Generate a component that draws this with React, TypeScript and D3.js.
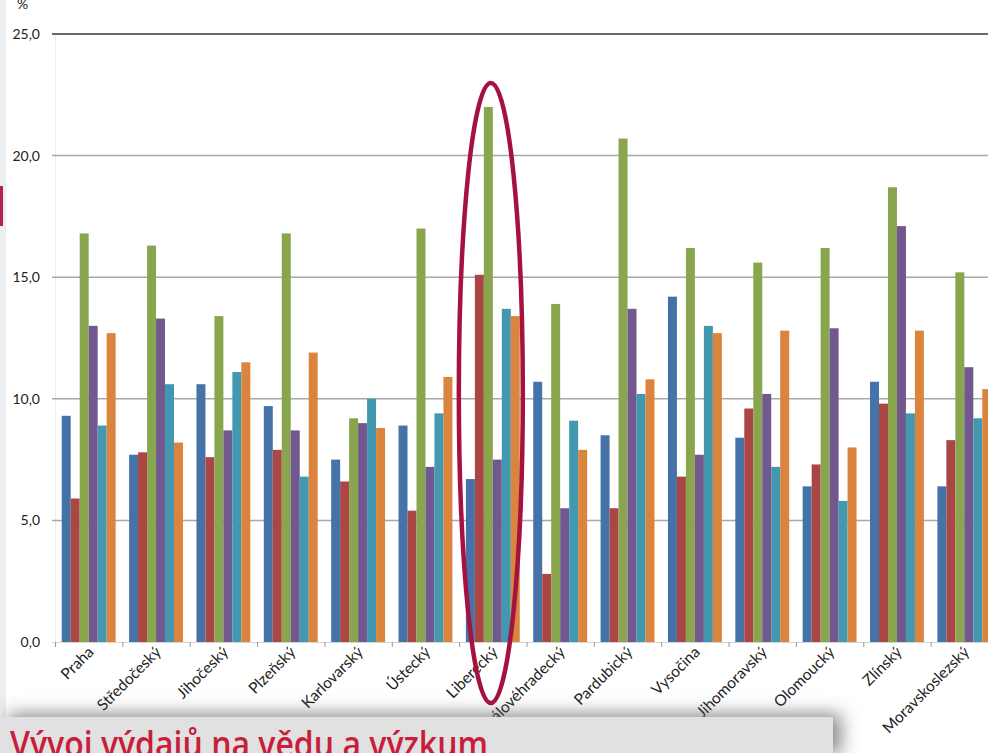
import React from "react";
import * as d3 from "d3";

const categories = [
  "Praha", "Středočeský", "Jihočeský", "Plzeňský", "Karlovarský", "Ústecký", "Liberecký",
  "Královéhradecký", "Pardubický", "Vysočina", "Jihomoravský", "Olomoucký", "Zlínský", "Moravskoslezský",
];
const seriesNames = ["s1", "s2", "s3", "s4", "s5", "s6"];
const s1 = [9.3, 7.7, 10.6, 9.7, 7.5, 8.9, 6.7, 10.7, 8.5, 14.2, 8.4, 6.4, 10.7, 6.4];
const s2 = [5.9, 7.8, 7.6, 7.9, 6.6, 5.4, 15.1, 2.8, 5.5, 6.8, 9.6, 7.3, 9.8, 8.3];
const s3 = [16.8, 16.3, 13.4, 16.8, 9.2, 17.0, 22.0, 13.9, 20.7, 16.2, 15.6, 16.2, 18.7, 15.2];
const s4 = [13.0, 13.3, 8.7, 8.7, 9.0, 7.2, 7.5, 5.5, 13.7, 7.7, 10.2, 12.9, 17.1, 11.3];
const s5 = [8.9, 10.6, 11.1, 6.8, 10.0, 9.4, 13.7, 9.1, 10.2, 13.0, 7.2, 5.8, 9.4, 9.2];
const s6 = [12.7, 8.2, 11.5, 11.9, 8.8, 10.9, 13.4, 7.9, 10.8, 12.7, 12.8, 8.0, 12.8, 10.4];
const seriesValues = [s1, s2, s3, s4, s5, s6];
const colors = ["#4572A7", "#AA4643", "#89A54E", "#71588F", "#4198AF", "#DB843D"];
const yTicks = [0, 5, 10, 15, 20, 25];
const unitLabel = "%";
const bannerText = "Vývoj výdajů na vědu a výzkum";
const highlighted = "Liberecký";

export default function App() {
  const W = 988, H = 753;
  const x = d3.scaleBand<string>().domain(categories).range([55, 998]).padding(0);
  const bw = x.bandwidth();
  const xi = d3.scaleBand<string>().domain(seriesNames).range([bw * 0.1, bw * 0.9]).padding(0);
  const y = d3.scaleLinear().domain([0, 25]).range([642, 34]);
  const fmt = (v: number) => v.toFixed(1).replace(".", ",");
  const hx = (x(highlighted) as number) + bw / 2 - 2;

  return (
    <svg width={W} height={H} style={{ position: "absolute", left: 0, top: 0, background: "#fff" }}
      fontFamily="Lato, 'Open Sans', sans-serif">
      <defs>
        <filter id="sh" x="-10%" y="-100%" width="130%" height="300%">
          <feDropShadow dx="8" dy="-3" stdDeviation="9" floodColor="#555" floodOpacity="0.7" />
        </filter>
      </defs>
      <rect x={0} y={0} width={W} height={H} fill="#fff" />
      <rect x={0} y={0} width={6} height={H} fill="#eceff2" />
      <rect x={0} y={186} width={3} height={40} fill="#b3244c" />
      <line x1={55.5} x2={55.5} y1={y(25)} y2={y(0)} stroke="#ececec" strokeWidth={1} />
      {yTicks.map((t) => (
        <g key={t}>
          {t > 0 && (
            <line x1={52} x2={W} y1={y(t)} y2={y(t)}
              stroke={t === 25 ? "#6a6a6a" : "#a8a8a8"} strokeWidth={t === 25 ? 2 : 1.5} />
          )}
          <text x={40} y={y(t) + 5} textAnchor="end" fontSize={14} fill="#222">{fmt(t)}</text>
        </g>
      ))}
      <text x={17} y={9} fontSize={14} fill="#222">{unitLabel}</text>
      <line x1={52} x2={W} y1={y(0) + 0.5} y2={y(0) + 0.5} stroke="#d4d4d4" strokeWidth={1} />
      {categories.map((c, i) => (
        <line key={"t" + i} x1={(x(c) as number) + 0.5} x2={(x(c) as number) + 0.5}
          y1={y(0)} y2={y(0) + 5} stroke="#999" strokeWidth={1} />
      ))}
      {categories.map((c, ci) => (
        <g key={c} transform={`translate(${x(c)},0)`}>
          {seriesNames.map((s, si) => {
            const v = seriesValues[si][ci];
            return (
              <rect key={s} x={xi(s)} y={y(v)} width={xi.bandwidth()} height={y(0) - y(v)}
                fill={colors[si]} />
            );
          })}
        </g>
      ))}
      {categories.map((c) => {
        const cx = (x(c) as number) + bw / 2 + 6;
        return (
          <text key={"l" + c} transform={`translate(${cx},653) rotate(-45)`} textAnchor="end"
            fontSize={15.5} fill="#222">{c}</text>
        );
      })}
      <ellipse cx={hx} cy={393} rx={32} ry={310} fill="none" stroke="#a5123f" strokeWidth={4.5} />
      <rect x={0} y={717} width={833} height={40} fill="#e1e1e1" filter="url(#sh)" />
      <text x={10} y={757} fontSize={36} fontWeight={600} fill="#c81e3c" textLength={478}
        lengthAdjust="spacingAndGlyphs" fontFamily="'Open Sans', Lato, sans-serif">{bannerText}</text>
    </svg>
  );
}
